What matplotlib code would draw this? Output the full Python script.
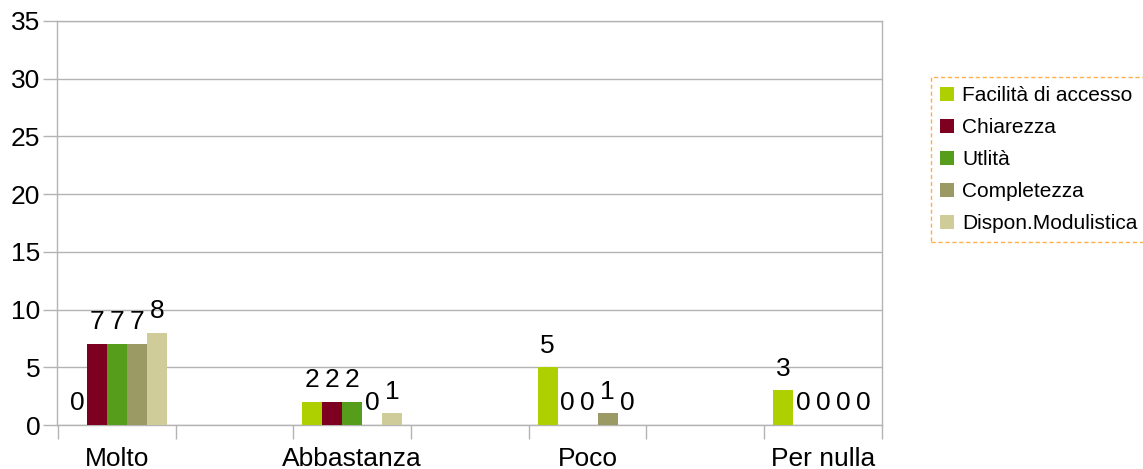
import matplotlib
matplotlib.use("Agg")
import matplotlib.pyplot as plt
import numpy as np

categories = ["Molto", "Abbastanza", "Poco", "Per nulla"]
series_names = ["Facilità di accesso", "Chiarezza", "Utlità", "Completezza", "Dispon.Modulistica"]
facilita = [0, 2, 5, 3]
chiarezza = [7, 2, 0, 0]
utilita = [7, 2, 0, 0]
completezza = [7, 0, 1, 0]
modulistica = [8, 1, 0, 0]
colors = ["#aecf00", "#7e0021", "#579d1c", "#9c9a64", "#cfcc99"]

plt.rcParams["font.family"] = ["Liberation Sans", "DejaVu Sans"]

fig = plt.figure(figsize=(11.43, 4.69), dpi=100)
ax = fig.add_axes([57 / 1143, 44 / 469, 825 / 1143, 404 / 469])

x = np.arange(len(categories))
width = 0.0851
values = [facilita, chiarezza, utilita, completezza, modulistica]
for i, (name, vals, color) in enumerate(zip(series_names, values, colors)):
    bars = ax.bar(x + (i - 2) * width, vals, width, color=color, label=name, zorder=3)
    ax.bar_label(bars, padding=7, fontsize=19)

ax.set_xlim(-0.255, 3.251)
ax.set_ylim(0, 35)
ax.set_yticks(range(0, 36, 5))
ax.set_xticks(x)
ax.set_xticklabels(categories)
ax.set_xticks(np.arange(-0.25, 3.3, 0.5), minor=True)
ax.tick_params(axis="x", which="major", length=0, labelsize=19, pad=16)
ax.tick_params(axis="x", which="minor", length=10, color="#b3b3b3", width=1)
ax.tick_params(axis="y", length=10, color="#b3b3b3", width=1, labelsize=19, pad=2)
ax.grid(axis="y", color="#b3b3b3", linewidth=1, zorder=0)
for side in ["left", "right", "top", "bottom"]:
    ax.spines[side].set_color("#b3b3b3")
    ax.spines[side].set_linewidth(1)

leg = fig.legend(
    loc="upper left",
    bbox_to_anchor=(931 / 1143, 1 - 77 / 469),
    fontsize=15,
    frameon=True,
    fancybox=False,
    handlelength=0.65,
    handleheight=0.65,
    handletextpad=0.4,
    labelspacing=0.62,
    borderpad=0.45,
    borderaxespad=0,
)
frame = leg.get_frame()
frame.set_edgecolor("#ff9a1a")
frame.set_linestyle((0, (3, 2)))
frame.set_linewidth(1)

fig.savefig("out.png", dpi=100)
